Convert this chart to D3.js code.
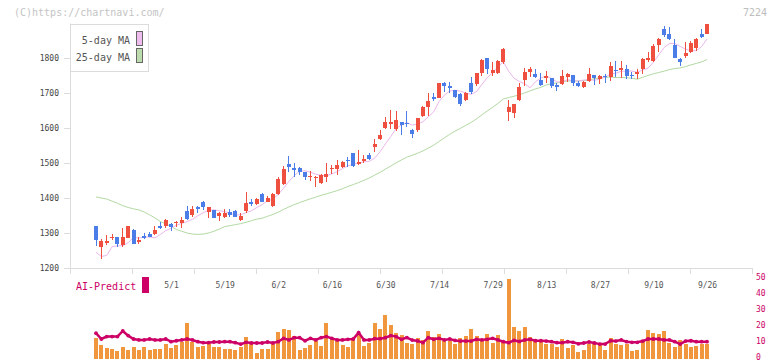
<!DOCTYPE html>
<html>
<head>
<meta charset="utf-8">
<script src="https://cdn.jsdelivr.net/npm/d3@7"></script>
<style>
  body { margin: 0; background: #fff; }
  svg text { font-family: "DejaVu Sans Mono", monospace; }
</style>
</head>
<body>
<svg id="chart" width="772" height="361"></svg>
<script>
// trading days shown (2025)
const dates = [
  '4/10','4/11','4/14','4/15','4/16','4/17','4/18','4/21','4/22','4/23','4/24','4/25','4/28','4/30',
  '5/1','5/2','5/7','5/8','5/9','5/12','5/13','5/14','5/15','5/16','5/19','5/20','5/21','5/22','5/23','5/26','5/27','5/28','5/29','5/30',
  '6/2','6/3','6/4','6/5','6/6','6/9','6/10','6/11','6/12','6/13','6/16','6/17','6/18','6/19','6/20','6/23','6/24','6/25','6/26','6/27','6/30',
  '7/1','7/2','7/3','7/4','7/7','7/8','7/9','7/10','7/11','7/14','7/15','7/16','7/17','7/18','7/22','7/23','7/24','7/25','7/28','7/29','7/30','7/31',
  '8/1','8/4','8/5','8/6','8/7','8/8','8/12','8/13','8/14','8/15','8/18','8/19','8/20','8/21','8/22','8/25','8/26','8/27','8/28','8/29',
  '9/1','9/2','9/3','9/4','9/5','9/8','9/9','9/10','9/11','9/12','9/16','9/17','9/18','9/19','9/22','9/24','9/25','9/26'
]
const tickLabels = ['5/1','5/19','6/2','6/16','6/30','7/14','7/29','8/13','8/27','9/10','9/26']
const priceTicks = [1200, 1300, 1400, 1500, 1600, 1700, 1800]
const aiTicks = [0, 10, 20, 30, 40, 50]

const opens = [1321,1259,1273,1287,1289,1266,1285,1309,1275,1292, 1296,1297,1320,1321,1325,1328,1330,1363,1351,1373,
  1390,1361,1366,1350,1347,1361,1363,1337,1362,1388, 1383,1411,1390,1378,1411,1441,1498,1485,1487,1473,
  1459,1458,1442,1461,1483,1484,1488,1510,1528,1497, 1509,1523,1545,1569,1599,1611,1597,1617,1615,1594,
  1594,1634,1659,1688,1687,1728,1720,1709,1697,1680, 1728,1725,1758,1799,1758,1757,1789,1647,1644,1681,
  1737,1759,1754,1737,1742,1744,1723,1726,1747,1751, 1730,1716,1734,1751,1740,1749,1745,1767,1766,1769,
  1752,1754,1769,1797,1792,1837,1883,1869,1837,1797, 1806,1818,1830,1869,1869]
const highs = [1321,1283,1294,1296,1290,1313,1321,1311,1288,1301, 1303,1320,1331,1339,1328,1334,1347,1377,1377,1377,
  1391,1373,1366,1361,1370,1368,1365,1358,1416,1398, 1399,1415,1406,1413,1461,1491,1520,1499,1489,1475,
  1478,1462,1469,1500,1495,1508,1507,1518,1529,1537, 1523,1530,1568,1594,1632,1651,1650,1617,1649,1597,
  1630,1663,1699,1699,1730,1732,1732,1709,1699,1704, 1746,1758,1797,1800,1790,1795,1830,1680,1670,1728,
  1771,1775,1769,1756,1763,1744,1730,1766,1758,1751, 1733,1735,1772,1751,1751,1753,1788,1791,1791,1780,
  1761,1769,1799,1816,1839,1856,1891,1888,1854,1801, 1847,1849,1856,1883,1897]
const lows = [1262,1225,1266,1280,1261,1261,1285,1269,1269,1283, 1288,1293,1312,1313,1307,1316,1315,1337,1346,1356,
  1366,1342,1342,1335,1342,1347,1345,1334,1357,1378, 1380,1388,1388,1375,1409,1437,1475,1461,1466,1451,
  1450,1432,1440,1447,1470,1466,1485,1490,1490,1494, 1499,1509,1531,1566,1597,1597,1592,1580,1604,1572,
  1590,1631,1634,1678,1685,1704,1701,1687,1664,1677, 1696,1720,1750,1755,1750,1755,1784,1621,1630,1678,
  1721,1745,1742,1720,1728,1715,1707,1723,1732,1720, 1718,1713,1732,1723,1725,1730,1735,1746,1742,1739,
  1739,1740,1753,1788,1789,1818,1861,1851,1799,1778, 1799,1815,1820,1856,1869]
const closes = [1281,1276,1277,1290,1269,1289,1320,1269,1280,1285, 1289,1309,1314,1337,1318,1332,1337,1339,1368,1370,
  1375,1373,1344,1356,1358,1351,1347,1349,1386,1385, 1397,1390,1401,1411,1454,1483,1490,1482,1475,1459,
  1463,1461,1466,1469,1486,1494,1504,1507,1491,1504, 1511,1511,1554,1580,1617,1617,1623,1608,1612,1583,
  1628,1660,1677,1683,1728,1721,1718,1690,1670,1700, 1703,1756,1794,1768,1766,1791,1826,1659,1670,1717,
  1760,1768,1745,1723,1750,1721,1718,1749,1753,1730, 1721,1732,1754,1744,1749,1748,1777,1765,1772,1749,
  1750,1761,1797,1799,1834,1854,1866,1854,1801,1790, 1815,1844,1854,1861,1897]

// bottom panel: bars and AI-Predict line
const volumes = [13.0,8.4,6.7,5.9,4.8,7.4,5.3,7.1,5.5,6.9, 5.3,5.9,5.9,9.0,6.7,8.4,10.3,22.5,10.3,7.4,
  8.0,9.0,6.9,7.4,6.1,5.9,5.3,7.4,13.4,8.8, 3.6,5.9,5.9,8.8,16.8,18.5,18.1,13.9,5.3,6.7,
  8.2,10.9,8.0,22.5,12.0,10.9,8.4,7.4,12.0,15.3, 7.8,9.9,22.5,18.5,27.3,21.0,16.2,14.6,9.9,9.0,
  12.8,11.6,17.2,13.4,15.3,11.1,11.1,9.0,12.8,14.1, 18.5,14.1,11.1,15.3,9.9,14.7,11.1,50.0,19.9,17.2,
  19.7,13.7,12.2,10.9,8.8,9.0,7.1,12.2,6.7,8.6, 4.2,5.3,9.0,8.8,8.2,5.3,12.8,9.0,8.2,9.2,
  4.6,5.3,11.1,17.9,16.2,15.3,17.2,9.9,7.1,11.6, 9.0,7.1,7.8,9.0,9.0]
const predict = [15.8,12.2,13.7,13.7,13.7,17.2,14.3,12.2,11.6,11.6, 12.2,11.6,11.6,12.2,10.5,11.1,11.6,12.2,11.6,10.5,
  9.9,9.9,10.3,10.3,10.5,10.5,9.9,9.0,10.1,9.7, 9.7,9.7,10.3,9.7,10.5,12.6,11.6,13.0,13.0,11.1,
  12.6,11.6,13.0,13.7,12.6,11.6,11.6,12.0,12.2,16.2, 11.6,11.6,12.4,12.4,13.0,14.3,13.7,12.0,13.1,11.5,
  11.0,9.9,13.0,12.0,12.6,11.6,12.2,11.3,10.9,10.9, 10.9,12.0,11.6,12.0,12.6,11.6,10.5,9.9,11.3,10.7,
  11.6,12.0,11.1,11.1,10.9,10.5,9.9,9.9,10.5,10.1, 9.2,9.7,10.3,9.7,9.0,9.0,11.1,10.9,11.6,10.5,
  10.1,10.1,10.9,12.2,12.2,12.2,11.6,11.6,10.5,9.0, 10.9,11.1,10.5,10.5,10.5]

// MA values before enough closes exist
const ma5Head = [1245,1233,1236,1261,1263,1264,1272]
const ma25Head = [1403,1400,1397,1391,1385,1378,1373,1369,1366,1360,1352,1343,1333,1326,1319,1310,1305,1300,1297,1296,1297,1300,1305,1311]

const sma = (n, head) => closes.map((c, i) =>
  i < head.length ? head[i] : d3.mean(closes.slice(i - n + 1, i + 1)))
const ma5 = sma(5, ma5Head)
const ma25 = sma(25, ma25Head)

const svg = d3.select('#chart')
const x = d3.scalePoint(dates, [96, 707])
const y = d3.scaleLinear([1200, 1900], [268, 23])
const v = d3.scaleLinear([0, 50], [358.5, 278.5])
const grid = d3.scaleLinear([0, 11], [70, 752])

const UP = '#ee4f3e', DOWN = '#4a7de8'

// header
svg.append('text').attr('x', 14).attr('y', 16)
  .attr('fill', '#c4c4c4').style('font-size', '10px')
  .text('(C)https://chartnavi.com/')
svg.append('text').attr('x', 767).attr('y', 16).attr('text-anchor', 'end')
  .attr('fill', '#bdbdbd').style('font-size', '10px')
  .text('7224')

// left axis
const yAxis = svg.append('g').attr('transform', 'translate(70,0)')
  .call(d3.axisLeft(y).tickValues(priceTicks).tickFormat(d3.format('d'))
    .tickSize(6).tickSizeOuter(0).tickPadding(5))
yAxis.select('.domain').attr('stroke', '#dcdcdc')
yAxis.selectAll('.tick line').attr('stroke', '#dcdcdc')
yAxis.selectAll('text').attr('fill', '#444').style('font-size', '8px')

// bottom axis + grid ticks
const xAxis = svg.append('g').attr('transform', 'translate(0,268)')
  .call(d3.axisBottom(grid).tickValues(d3.range(12)).tickFormat('').tickSize(6).tickSizeOuter(0))
xAxis.select('.domain').attr('stroke', '#dcdcdc')
xAxis.selectAll('.tick line').attr('stroke', '#dcdcdc')

const xLab = svg.append('g').attr('transform', 'translate(0,268)')
  .call(d3.axisBottom(x).tickValues(tickLabels).tickSize(0).tickPadding(14))
xLab.select('.domain').remove()
xLab.selectAll('text').attr('fill', '#555').style('font-size', '8px')

// moving averages
const maLine = d3.line().x((d, i) => x(dates[i])).y(d => y(d))
svg.append('path').datum(ma25).attr('d', maLine)
  .attr('fill', 'none').attr('stroke', '#b3d9a3').attr('stroke-width', 1)
svg.append('path').datum(ma5).attr('d', maLine)
  .attr('fill', 'none').attr('stroke', '#ebb6eb').attr('stroke-width', 1)

// candles
const candles = svg.append('g').attr('shape-rendering', 'crispEdges')
  .selectAll('g').data(dates).join('g')
candles.append('rect')
  .attr('x', d => x(d) - 0.5).attr('width', 1)
  .attr('y', (d, i) => y(highs[i]))
  .attr('height', (d, i) => Math.max(1, y(lows[i]) - y(highs[i])))
  .attr('fill', (d, i) => closes[i] >= opens[i] ? UP : DOWN)
candles.append('rect')
  .attr('x', d => x(d) - 2).attr('width', 4)
  .attr('y', (d, i) => y(Math.max(opens[i], closes[i])))
  .attr('height', (d, i) => Math.max(1.5, Math.abs(y(opens[i]) - y(closes[i]))))
  .attr('fill', (d, i) => closes[i] >= opens[i] ? UP : DOWN)

// legend
const legend = svg.append('g')
legend.append('rect').attr('x', 70.5).attr('y', 24.5).attr('width', 78).attr('height', 47)
  .attr('fill', '#fff').attr('stroke', '#dcdcdc')
const legendItems = [['5-day MA', '#eebdee'], ['25-day MA', '#bcdcae']]
legendItems.forEach(([label, color], k) => {
  legend.append('text').attr('x', 130).attr('y', 44 + k * 17).attr('text-anchor', 'end')
    .attr('fill', '#555').style('font-size', '10px').text(label)
  legend.append('rect').attr('x', 136.5).attr('y', 31.5 + k * 17).attr('width', 6).attr('height', 14)
    .attr('fill', color).attr('stroke', '#666')
})

// bottom panel
svg.append('g').attr('shape-rendering', 'crispEdges')
  .selectAll('rect').data(volumes).join('rect')
  .attr('x', (d, i) => x(dates[i]) - 2).attr('width', 4)
  .attr('y', d => v(d)).attr('height', d => v(0) - v(d))
  .attr('fill', '#f0963c')

const aiLine = d3.line().x((d, i) => x(dates[i])).y(d => v(d))
svg.append('path').datum(predict).attr('d', aiLine)
  .attr('fill', 'none').attr('stroke', '#cc0066').attr('stroke-width', 2.5)
svg.append('g').selectAll('circle').data(predict).join('circle')
  .attr('cx', (d, i) => x(dates[i])).attr('cy', d => v(d)).attr('r', 1.9)
  .attr('fill', '#cc0066')

const vAxis = svg.append('g').attr('transform', 'translate(755,0)')
  .call(d3.axisRight(v).tickValues(aiTicks).tickSize(0).tickPadding(1))
vAxis.select('.domain').remove()
vAxis.selectAll('text').attr('fill', '#cc0066').attr('dy', '0.1em').style('font-size', '8px')

svg.append('text').attr('x', 76).attr('y', 290)
  .attr('fill', '#cc0066').style('font-size', '10px').text('AI-Predict')
svg.append('rect').attr('x', 142).attr('y', 277).attr('width', 7).attr('height', 16)
  .attr('fill', '#cc0066')
</script>
</body>
</html>
